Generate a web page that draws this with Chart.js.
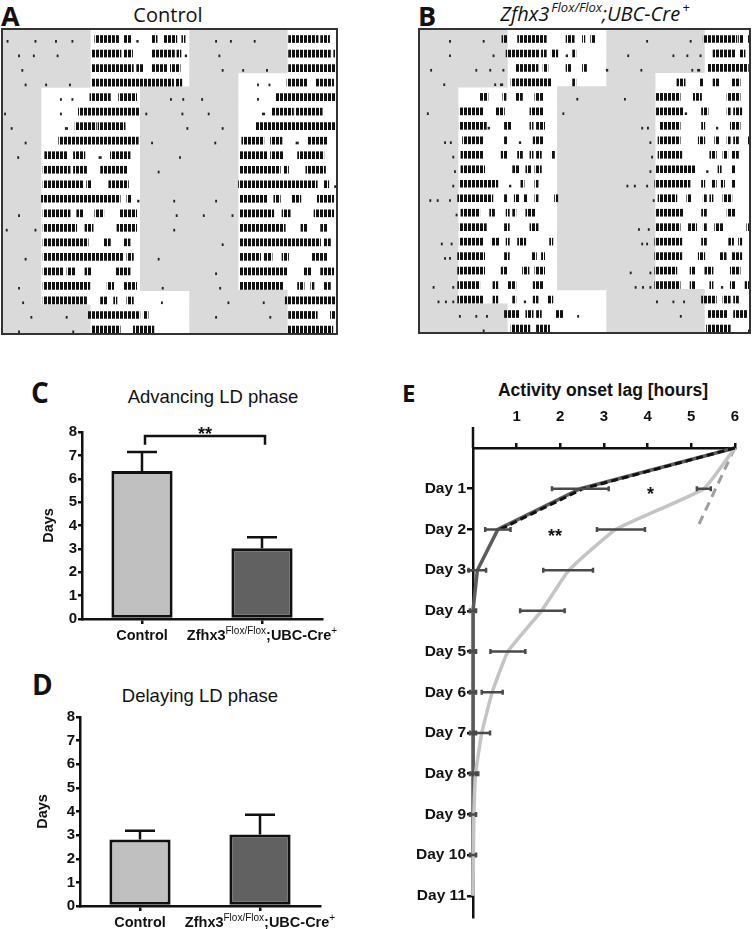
<!DOCTYPE html>
<html>
<head>
<meta charset="utf-8">
<script src="https://cdn.jsdelivr.net/npm/chart.js@4.4.0/dist/chart.umd.min.js"></script>
<style>
  body { margin: 0; background: #fff; }
  #fig { position: relative; width: 756px; height: 929px; overflow: hidden; font-family: "Liberation Sans", Arial, sans-serif; color: #111; }
  #fig canvas { position: absolute; }
  .letter { position: absolute; font-family: "Open Sans", sans-serif; font-weight: 700; white-space: nowrap; }
  .title { position: absolute; text-align: center; white-space: nowrap; }
  .title sup { font-size: 13px; vertical-align: 9px; line-height: 0; margin-left: 2px; }
</style>
</head>
<body>
<div id="fig">
  <div class="letter" style="left:1px;top:2px;font-size:27px;line-height:27px;">A</div>
  <div class="title" style="left:68px;top:5px;width:200px;font-family:'Open Sans';font-size:20px;line-height:20px;">Control</div>
  <div class="letter" style="left:418px;top:2px;font-size:27px;line-height:27px;">B</div>
  <div class="title" style="left:470px;top:4px;width:250px;font-family:'Open Sans';font-style:italic;font-size:20px;line-height:20px;">Zfhx3<sup>Flox/Flox</sup>;UBC-Cre<sup>+</sup></div>
  <div class="letter" style="left:31px;top:378px;font-size:28px;line-height:28px;">C</div>
  <div class="title" style="left:113px;top:388px;width:200px;font-size:18.5px;line-height:18.5px;">Advancing LD phase</div>
  <div class="letter" style="left:32px;top:670px;font-size:28px;line-height:28px;">D</div>
  <div class="title" style="left:100px;top:687px;width:200px;font-size:18.5px;line-height:18.5px;">Delaying LD phase</div>
  <div class="letter" style="left:402px;top:381px;font-size:24px;line-height:24px;">E</div>
  <div class="title" style="left:483px;top:382px;width:240px;font-weight:700;font-size:17.5px;line-height:17.5px;">Activity onset lag [hours]</div>

  <canvas id="actoA" width="340" height="310" style="left:0px;top:27px;"></canvas>
  <canvas id="actoB" width="338" height="310" style="left:416px;top:27px;"></canvas>
  <canvas id="advance" width="340" height="225" style="left:0px;top:420px;"></canvas>
  <canvas id="delay" width="340" height="224" style="left:0px;top:705px;"></canvas>
  <canvas id="onset" width="356" height="524" style="left:400px;top:405px;"></canvas>
</div>

<script>
// ---------- actograms (A, B): hours from the left edge of each row, 21 double-plotted rows ----------
const ROW_COUNT = 21;
const lightsOn  = [10.75, 10.75, 10.75, 10.75, 4.75, 4.75, 4.75, 4.75, 4.75, 4.75, 4.75, 4.75, 4.75, 4.75, 4.75, 4.75, 4.75, 4.75, 4.75, 10.75, 10.75, 10.75];
const lightsOff = [22.85, 22.85, 22.85, 22.85, 16.85, 16.85, 16.85, 16.85, 16.85, 16.85, 16.85, 16.85, 16.85, 16.85, 16.85, 16.85, 16.85, 16.85, 22.85, 22.85, 22.85, 22.85];

// activity bouts per day, [start, end] in hours
const controlBouts = [
  [[0.6, 0.75], [4.0, 4.15], [6.5, 6.65], [8.5, 8.65], [11.3, 14.2], [14.9, 15.8], [16.4, 16.6], [18.3, 18.9], [19.7, 21.3], [21.9, 22.3]],
  [[2.0, 2.15], [3.8, 3.95], [6.7, 6.85], [10.9, 14.5], [14.8, 15.9], [18.3, 21.0], [21.3, 21.8], [22.3, 22.5]],
  [[2.4, 2.55], [10.9, 16.0], [16.4, 17.2], [18.3, 20.1], [20.5, 21.7]],
  [[2.8, 2.95], [5.3, 5.45], [8.2, 8.35], [10.9, 20.9], [21.1, 21.9]],
  [[7.1, 7.25], [8.5, 8.65], [10.7, 13.2], [14.2, 16.4], [20.5, 20.65], [22.0, 22.15]],
  [[0.3, 0.45], [7.1, 7.25], [9.3, 16.7], [17.5, 17.65], [21.9, 22.05]],
  [[1.1, 1.25], [7.7, 8.0], [8.9, 11.5], [11.7, 15.0], [22.5, 22.65]],
  [[2.8, 2.95], [6.9, 16.6], [18.2, 18.35]],
  [[1.9, 2.05], [5.2, 7.9], [8.7, 10.1], [11.8, 12.1], [13.2, 15.6], [21.6, 21.75]],
  [[5.0, 8.3], [8.7, 10.3], [12.0, 15.2], [19.0, 19.15]],
  [[5.0, 9.9], [10.3, 10.9], [13.0, 15.4]],
  [[4.8, 14.4], [15.2, 15.8], [16.5, 16.7], [20.9, 21.05]],
  [[2.0, 2.15], [5.0, 8.3], [9.1, 9.9], [11.3, 12.4], [14.4, 16.4], [21.2, 21.35]],
  [[0.5, 0.65], [4.0, 4.15], [5.0, 9.1], [10.1, 11.1], [14.0, 16.4], [20.9, 21.05]],
  [[5.0, 10.5], [12.4, 13.2], [14.8, 15.6]],
  [[2.8, 2.95], [5.0, 14.8], [15.2, 16.0], [19.0, 19.15]],
  [[5.0, 7.5], [7.9, 8.9], [10.1, 10.9], [13.8, 15.6]],
  [[2.0, 2.15], [5.0, 10.7], [12.8, 13.6], [14.8, 16.4], [19.5, 19.65]],
  [[2.5, 2.65], [5.0, 10.3], [12.0, 12.8], [13.6, 14.0], [15.2, 16.0], [19.4, 19.55]],
  [[3.5, 3.65], [7.8, 7.95], [10.5, 16.8], [17.2, 17.8]],
  [[2.0, 2.15], [8.6, 8.75], [10.9, 14.4], [16.0, 18.5]],
  [[10.8, 16.3]]
];
const mutantBouts = [
  [[3.7, 3.85], [7.8, 7.95], [10.1, 10.7], [12.0, 15.5], [17.9, 18.9], [19.9, 20.2], [20.9, 21.4]],
  [[3.7, 3.85], [9.0, 9.15], [10.6, 14.7], [14.9, 15.5], [16.1, 16.9], [17.9, 18.1], [18.7, 19.1]],
  [[1.4, 1.55], [6.9, 7.05], [8.6, 8.75], [10.2, 10.35], [11.8, 14.5], [15.1, 15.7], [17.9, 18.5], [19.9, 20.4], [22.8, 23.0]],
  [[3.0, 3.15], [9.2, 9.35], [9.9, 10.2], [11.2, 16.1], [18.7, 19.1]],
  [[7.4, 8.4], [10.2, 10.6], [11.8, 12.6], [14.1, 15.1], [19.2, 19.35]],
  [[1.0, 1.15], [4.9, 7.8], [9.4, 10.4], [13.5, 15.1], [17.5, 17.65]],
  [[4.9, 8.2], [8.4, 8.6], [10.4, 11.2], [13.5, 13.9], [14.3, 15.3]],
  [[3.1, 3.25], [3.8, 3.95], [5.3, 7.8], [10.4, 10.8], [12.2, 12.4], [13.9, 15.1]],
  [[4.1, 4.25], [5.1, 7.8], [10.0, 10.8], [12.0, 12.6], [13.5, 13.9], [14.3, 14.9], [16.1, 16.5]],
  [[4.3, 4.45], [5.1, 8.0], [11.4, 12.2], [13.0, 13.6], [14.1, 14.9]],
  [[4.1, 4.25], [4.9, 9.6], [11.0, 11.2], [12.4, 12.8], [14.1, 14.5]],
  [[1.3, 1.45], [2.2, 2.35], [3.7, 3.85], [4.7, 9.0], [10.4, 10.8], [11.6, 12.2], [12.8, 13.2], [14.1, 14.5], [16.5, 16.9]],
  [[4.5, 4.65], [5.1, 7.4], [8.6, 9.2], [10.6, 11.0], [11.4, 11.8], [13.0, 14.1]],
  [[4.9, 8.2], [10.4, 11.0], [13.5, 14.5]],
  [[2.7, 2.85], [3.9, 4.05], [4.9, 7.8], [8.8, 9.8], [10.6, 11.0], [12.0, 13.0], [15.9, 16.3]],
  [[3.1, 3.25], [3.7, 3.85], [4.7, 8.0], [10.4, 11.0], [13.7, 14.3], [14.9, 15.3]],
  [[4.7, 8.0], [10.0, 10.8], [12.6, 13.4], [14.1, 15.3]],
  [[1.7, 1.85], [4.1, 4.25], [4.7, 7.4], [9.0, 9.6], [10.8, 11.8], [13.9, 15.1]],
  [[2.3, 2.45], [3.2, 3.35], [4.1, 4.25], [4.7, 7.8], [9.0, 9.6], [11.4, 11.8], [12.8, 13.0], [13.9, 14.5], [15.7, 16.3]],
  [[4.9, 5.05], [6.9, 7.05], [8.2, 8.35], [10.4, 12.2], [13.0, 13.9], [14.3, 14.9], [16.7, 17.5], [19.3, 19.45]],
  [[7.8, 7.95], [11.2, 13.5], [14.3, 15.9]],
  [[11.0, 13.9], [16.1, 16.3]]
];

// ---------- C, D: days to re-entrain ----------
const groupNames = ['Control', 'Zfhx3 Flox/Flox;UBC-Cre+'];
const groupLabelParts = [
  [{ t: 'Control' }],
  [{ t: 'Zfhx3' }, { t: 'Flox/Flox', sup: true }, { t: ';UBC-Cre' }, { t: '+', sup: true }]
];
const advanceMean = [6.33, 3.03];
const advanceSem = [0.81, 0.47];
const delayMean = [2.82, 3.03];
const delaySem = [0.36, 0.83];
const dayTicks = [0, 1, 2, 3, 4, 5, 6, 7, 8];

// ---------- E: activity onset lag ----------
const onsetDays = [0, 1, 2, 3, 4, 5, 6, 7, 8, 9, 10, 11];
const controlLag = [6, 5.29, 3.27, 2.2, 1.57, 0.8, 0.44, 0.2, 0.06, 0.02, 0.01, 0];
const controlSem = [0, 0.16, 0.55, 0.57, 0.51, 0.4, 0.24, 0.19, 0.06, 0, 0, 0];
const controlErrCenter = [6, 5.29, 3.39, 2.18, 1.59, 0.8, 0.44, 0.2, 0.06, 0.02, 0.01, 0];
const mutantLag = [6, 2.46, 0.57, 0.1, 0, 0, 0, 0, 0, 0, 0, 0];
const mutantSem = [0, 0.65, 0.29, 0.2, 0.07, 0.07, 0.07, 0.07, 0.07, 0.07, 0.07, 0];
const mutantFitDays = [0, 1, 2];
const mutantFitLag = [6, 2.52, 0.62];
const controlFitDays = [0, 1.89];
const controlFitLag = [6, 5.17];
const lagTicks = [1, 2, 3, 4, 5, 6];
const dayLabelTicks = [1, 2, 3, 4, 5, 6, 7, 8, 9, 10, 11];
const onsetStars = [
  { lag: 4.07, day: 1.0, text: '*' },
  { lag: 1.88, day: 2.03, text: '**' }
];

Chart.defaults.font.family = 'Liberation Sans';
Chart.defaults.color = '#111';

// histogram-like fill for the activity bouts
const patternCanvas = document.createElement('canvas');
patternCanvas.width = 4;
patternCanvas.height = 8;
const pctx = patternCanvas.getContext('2d');
pctx.fillStyle = '#111';
pctx.fillRect(0, 0, 3, 8);
const histogramFill = pctx.createPattern(patternCanvas, 'repeat');

const boxBorder = {
  id: 'boxBorder',
  afterDraw(chart) {
    const { ctx, chartArea } = chart;
    ctx.save();
    ctx.strokeStyle = '#333';
    ctx.lineWidth = 2;
    ctx.strokeRect(chartArea.left, chartArea.top, chartArea.right - chartArea.left, chartArea.bottom - chartArea.top);
    ctx.restore();
  }
};

// build double-plotted rows: row r shows day r, then day r+1 shifted by 24 h
const buildActogram = (bouts) => {
  const dark = [], active = [], specks = [];
  for (let r = 0; r < ROW_COUNT; r++) {
    [r, r + 1].forEach((d, half) => {
      const shift = half * 24;
      dark.push({ x: [shift, shift + lightsOn[d]], y: r + 0.5 });
      dark.push({ x: [shift + lightsOff[d], shift + 24], y: r + 0.5 });
      bouts[d].forEach(b => {
        if (b[1] - b[0] < 0.3) {
          specks.push({ x: [b[0] + shift, b[1] + shift], y: r + 0.85 });
        } else {
          active.push({ x: [b[0] + shift, b[1] + shift], y: r + 0.69 });
        }
      });
    });
  }
  return { dark, active, specks };
};

const drawActogram = (id, bouts, hours, padding) => {
  const rows = buildActogram(bouts);
  new Chart(document.getElementById(id), {
    type: 'bar',
    data: {
      datasets: [
        { data: rows.active, backgroundColor: histogramFill, barThickness: 7, grouped: false, order: 0 },
        { data: rows.specks, backgroundColor: '#222', barThickness: 2, grouped: false, order: 0 },
        { data: rows.dark, backgroundColor: '#dadada', barThickness: 15, grouped: false, order: 2 }
      ]
    },
    options: {
      indexAxis: 'y',
      responsive: false,
      animation: false,
      layout: { padding },
      plugins: { legend: { display: false }, tooltip: { enabled: false } },
      scales: {
        x: { type: 'linear', min: 0, max: hours, display: false },
        y: { type: 'linear', min: 0, max: ROW_COUNT, reverse: true, offset: false, display: false }
      }
    },
    plugins: [boxBorder]
  });
};

drawActogram('actoA', controlBouts, 40.8, { left: 2, top: 2, right: 3, bottom: 3 });
drawActogram('actoB', mutantBouts, 40.3, { left: 3, top: 2, right: 4, bottom: 4 });

// ---------- bar charts ----------
const richTicks = {
  id: 'richTicks',
  afterDraw(chart, args, opts) {
    const { ctx, chartArea } = chart;
    const xs = chart.scales.x;
    ctx.save();
    ctx.fillStyle = '#111';
    ctx.textAlign = 'left';
    ctx.textBaseline = 'alphabetic';
    const fontFor = p => p.sup ? '10px "Liberation Sans"' : 'bold 14.5px "Liberation Sans"';
    opts.labels.forEach((parts, i) => {
      const widths = parts.map(p => { ctx.font = fontFor(p); return ctx.measureText(p.t).width; });
      let x = xs.getPixelForValue(i) - widths.reduce((a, b) => a + b, 0) / 2;
      parts.forEach((p, j) => {
        ctx.font = fontFor(p);
        ctx.fillText(p.t, x, chartArea.bottom + opts.offset - (p.sup ? 6 : 0));
        x += widths[j];
      });
    });
    ctx.restore();
  }
};

const barErrors = {
  id: 'barErrors',
  afterDatasetsDraw(chart, args, opts) {
    const { ctx } = chart;
    const xs = chart.scales.x, ys = chart.scales.y;
    ctx.save();
    ctx.strokeStyle = '#111';
    ctx.lineWidth = 2.5;
    opts.means.forEach((m, i) => {
      const px = xs.getPixelForValue(i);
      const top = ys.getPixelForValue(m + opts.sem[i]);
      ctx.beginPath();
      ctx.moveTo(px, ys.getPixelForValue(m));
      ctx.lineTo(px, top);
      ctx.moveTo(px - 15, top);
      ctx.lineTo(px + 15, top);
      ctx.stroke();
    });
    if (opts.bracket) {
      const b = opts.bracket;
      const x0 = xs.getPixelForValue(0) + 3, x1 = xs.getPixelForValue(1) + 3;
      const yl = ys.getPixelForValue(b.level), yleg = ys.getPixelForValue(b.leg);
      ctx.beginPath();
      ctx.moveTo(x0, yleg);
      ctx.lineTo(x0, yl);
      ctx.lineTo(x1, yl);
      ctx.lineTo(x1, yleg);
      ctx.stroke();
      ctx.fillStyle = '#111';
      ctx.font = 'bold 18px "Liberation Sans"';
      ctx.textAlign = 'center';
      ctx.textBaseline = 'alphabetic';
      ctx.fillText(b.label, (x0 + x1) / 2, yl + 4);
    }
    ctx.restore();
  }
};

const drawBars = (id, means, sem, yWidth, titlePad, bracket) => {
  new Chart(document.getElementById(id), {
    type: 'bar',
    data: {
      labels: groupNames,
      datasets: [{
        data: means,
        backgroundColor: ['#c0c0c0', '#616161'],
        borderColor: '#111',
        borderWidth: 3,
        borderSkipped: false,
        barPercentage: 0.51,
        categoryPercentage: 1
      }]
    },
    options: {
      responsive: false,
      animation: false,
      layout: { padding: { top: 12, right: 340 - 240 - yWidth, left: 0, bottom: 0 } },
      plugins: {
        legend: { display: false },
        tooltip: { enabled: false },
        richTicks: { labels: groupLabelParts, offset: 21 },
        barErrors: { means, sem, bracket }
      },
      scales: {
        x: {
          grid: { offset: false, drawOnChartArea: false, tickLength: 5, color: '#111', lineWidth: 2.5 },
          border: { color: '#111', width: 2.5 },
          ticks: { display: false },
          afterFit: s => { s.height = id === 'advance' ? 26 : 23; }
        },
        y: {
          min: 0,
          max: 8,
          afterBuildTicks: s => { s.ticks = dayTicks.map(v => ({ value: v })); },
          ticks: { font: { weight: 'bold', size: 15 }, color: '#111', padding: 1 },
          grid: { drawOnChartArea: false, tickLength: 4, color: '#111', lineWidth: 2.5 },
          border: { color: '#111', width: 2.5 },
          title: { display: true, text: 'Days', color: '#111', font: { weight: 'bold', size: 14.5 }, padding: { top: titlePad, bottom: 0 } },
          afterFit: s => { s.width = yWidth; }
        }
      }
    },
    plugins: [richTicks, barErrors]
  });
};

drawBars('advance', advanceMean, advanceSem, 82, 40.3, { level: 7.83, leg: 7.45, label: '**' });
drawBars('delay', delayMean, delaySem, 80, 34.3, null);

// ---------- onset lag chart ----------
const onsetExtras = {
  id: 'onsetExtras',
  afterDatasetsDraw(chart, args, opts) {
    const { ctx, chartArea } = chart;
    const xs = chart.scales.x, ys = chart.scales.y;
    ctx.save();
    // y axis continues a little above the lag axis
    ctx.strokeStyle = '#111';
    ctx.lineWidth = 2.5;
    ctx.beginPath();
    ctx.moveTo(chartArea.left, chartArea.top - 21);
    ctx.lineTo(chartArea.left, chartArea.top);
    ctx.stroke();
    // horizontal error bars
    ctx.strokeStyle = '#4a4a4a';
    ctx.lineWidth = 2.5;
    opts.errors.forEach(series => {
      series.sem.forEach((s, i) => {
        if (!s) return;
        const py = ys.getPixelForValue(onsetDays[i]);
        const a = xs.getPixelForValue(series.lag[i] - s), b = xs.getPixelForValue(series.lag[i] + s);
        ctx.beginPath();
        ctx.moveTo(a, py); ctx.lineTo(b, py);
        ctx.moveTo(a, py - 2.5); ctx.lineTo(a, py + 2.5);
        ctx.moveTo(b, py - 2.5); ctx.lineTo(b, py + 2.5);
        ctx.stroke();
      });
    });
    ctx.fillStyle = '#111';
    ctx.font = 'bold 18px "Liberation Sans"';
    ctx.textAlign = 'center';
    ctx.textBaseline = 'alphabetic';
    onsetStars.forEach(s => {
      ctx.fillText(s.text, xs.getPixelForValue(s.lag), ys.getPixelForValue(s.day) + 11);
    });
    ctx.restore();
  }
};

const toPoints = (days, lag) => days.map((d, i) => ({ x: lag[i], y: d }));

new Chart(document.getElementById('onset'), {
  type: 'line',
  data: {
    datasets: [
      { data: toPoints(mutantFitDays, mutantFitLag), borderColor: '#111', borderWidth: 3, borderDash: [7, 4], pointRadius: 0, tension: 0, clip: false, order: 0 },
      { data: toPoints(onsetDays, controlLag), borderColor: '#c4c4c4', borderWidth: 3.5, tension: 0.12, pointRadius: 0, clip: false, order: 1 },
      { data: toPoints(controlFitDays, controlFitLag), borderColor: '#9e9e9e', borderWidth: 3, borderDash: [9, 6], pointRadius: 0, clip: false, order: 1 },
      { data: toPoints(onsetDays, mutantLag), borderColor: '#5c5c5c', borderWidth: 3.5, tension: 0, pointRadius: 0, clip: false, order: 2 }
    ]
  },
  options: {
    indexAxis: 'y',
    responsive: false,
    animation: false,
    layout: { padding: { top: 0, right: 21, left: 0, bottom: 12 } },
    plugins: {
      legend: { display: false },
      tooltip: { enabled: false },
      onsetExtras: {
        errors: [
          { lag: controlErrCenter, sem: controlSem },
          { lag: mutantLag, sem: mutantSem }
        ]
      }
    },
    scales: {
      x: {
        type: 'linear',
        position: 'top',
        min: 0,
        max: 6,
        afterBuildTicks: s => { s.ticks = lagTicks.map(v => ({ value: v })); },
        ticks: { font: { weight: 'bold', size: 15 }, color: '#111', padding: 17 },
        grid: { drawOnChartArea: false, tickLength: 5, color: '#111', lineWidth: 2.5 },
        border: { color: '#111', width: 2.5 },
        afterFit: s => { s.height = 43; }
      },
      y: {
        type: 'linear',
        min: 0,
        max: 11.52,
        reverse: true,
        afterBuildTicks: s => { s.ticks = dayLabelTicks.map(v => ({ value: v })); },
        ticks: { font: { weight: 'bold', size: 15.5 }, color: '#111', padding: 1, callback: v => 'Day ' + v },
        grid: { drawOnChartArea: false, tickLength: 6, color: '#111', lineWidth: 2.5 },
        border: { color: '#111', width: 2.5 },
        afterFit: s => { s.width = 73; }
      }
    }
  },
  plugins: [onsetExtras]
});
</script>
</body>
</html>
